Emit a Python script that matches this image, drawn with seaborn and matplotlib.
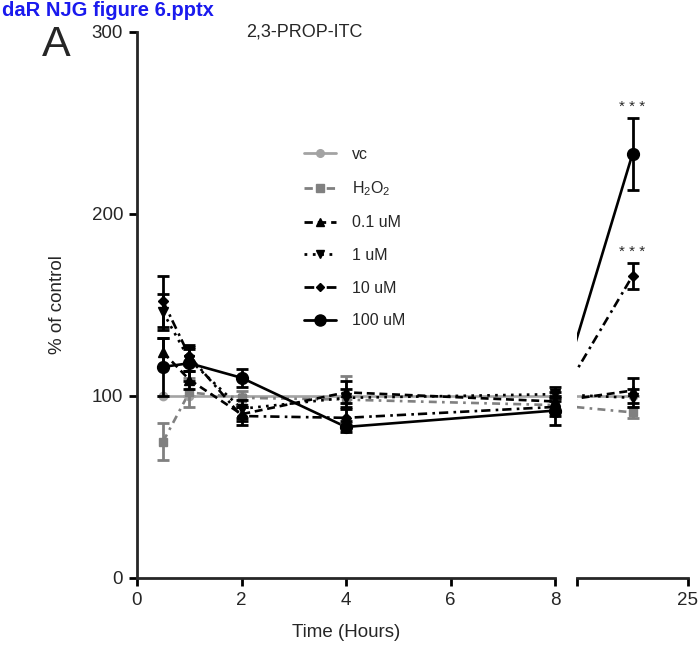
import matplotlib
matplotlib.use("Agg")
import numpy as np
import pandas as pd
import seaborn as sns
import matplotlib.pyplot as plt
from matplotlib.lines import Line2D

# ---------------- data ----------------
times = [0.5, 1, 2, 4, 8, 24]
labels = ["vc", "H$_2$O$_2$", "0.1 uM", "1 uM", "10 uM", "100 uM"]

vc_mean = [100, 100, 100, 100, 100, 100]
vc_err = [0, 0, 0, 0, 0, 0]
h2o2_mean = [75, 102, 99, 98, 95, 91]
h2o2_err = [10, 8, 4, 13, 4, 3]
c01_mean = [124, 109, 90, 102, 97, 103]
c01_err = [8, 5, 4, 6, 5, 7]
c1_mean = [146, 120, 93, 99, 101, 99]
c1_err = [10, 6, 5, 5, 4, 5]
c10_mean = [152, 122, 89, 88, 94, 166]
c10_err = [14, 5, 5, 5, 5, 7]
c100_mean = [116, 118, 110, 83, 92, 233]
c100_err = [16, 10, 5, 3, 8, 20]

means = [vc_mean, h2o2_mean, c01_mean, c1_mean, c10_mean, c100_mean]
errs = [vc_err, h2o2_err, c01_err, c1_err, c10_err, c100_err]

left_ticks = [0, 2, 4, 6, 8]
right_ticks = [23, 25]
right_ticklabels = ["", "25"]
y_ticks = [0, 100, 200, 300]
signif = ["* * *", "* * *"]
signif_series = [5, 4]

# ---------------- styles ----------------
colors = ["#a3a3a3", "#808080", "black", "black", "black", "black"]
styles = ["-", (0, (3, 2, 1, 2)), (0, (3, 1.8)), (0, (1, 2)), (0, (3.5, 2, 1, 1.5)), "-"]
markers = ["o", "s", "^", "v", "D", "o"]
msizes = [6, 6, 6.5, 6.5, 5, 8.5]

sns.set_theme(style="ticks")
plt.rcParams["font.family"] = ["Liberation Sans", "DejaVu Sans"]
plt.rcParams["mathtext.default"] = "regular"

W, H = 700, 650
fig = plt.figure(figsize=(7, 6.5), dpi=100)

L0, L1, R0, R1 = 137, 555, 577, 688
YB, YT = 578, 32
axL = fig.add_axes([L0 / W, (H - YB) / H, (L1 - L0) / W, (YB - YT) / H])
axR = fig.add_axes([R0 / W, (H - YB) / H, (R1 - R0) / W, (YB - YT) / H])
axL.set_xlim(0, 8)
axR.set_xlim(23, 25)
for ax in (axL, axR):
    ax.set_ylim(0, 300)

# mapping across the broken axis (continuous in display space)
pxL = (L1 - L0) / 8.0
pxR = (R1 - R0) / 2.0
def right_to_left(x):
    px = R0 + (x - 23) * pxR
    return (px - L0) / pxL
def left_to_right(x):
    px = L0 + x * pxL
    return 23 + (px - R0) / pxR

for i in range(len(labels)):
    m = means[i]
    e = errs[i]
    tl = [t if t <= 8 else right_to_left(t) for t in times]
    tr = [t if t > 8 else left_to_right(t) for t in times]
    dfl = pd.DataFrame({"x": tl, "y": m})
    dfr = pd.DataFrame({"x": tr, "y": m})
    z = 3 + i
    for ax, df in ((axL, dfl), (axR, dfr)):
        sns.lineplot(data=df, x="x", y="y", ax=ax, color=colors[i], linestyle=styles[i],
                     linewidth=1.9, errorbar=None, sort=False, zorder=z)
    lt = [t for t in times if t <= 8]
    axL.errorbar(lt, m[:len(lt)], yerr=e[:len(lt)], fmt=markers[i], color=colors[i],
                 ms=msizes[i], elinewidth=2, capsize=4, capthick=2, clip_on=False, zorder=z + 10)
    rt = [t for t in times if t > 8]
    axR.errorbar(rt, m[len(lt):], yerr=e[len(lt):], fmt=markers[i], color=colors[i],
                 ms=msizes[i], elinewidth=2, capsize=4, capthick=2, clip_on=False, zorder=z + 10)

for s, txt in zip(signif_series, signif):
    axR.text(times[-1], means[s][-1] + errs[s][-1] + 6, txt, ha="center", va="center",
             fontsize=11)

# ---------------- axes styling ----------------
sns.despine(ax=axL)
sns.despine(ax=axR, left=True)
for ax in (axL, axR):
    for sp in ax.spines.values():
        sp.set_linewidth(2)
    ax.tick_params(axis="both", width=2, length=6, direction="out", labelsize=13.5,
                   color="black", pad=4)
    ax.set_xlabel("")
    ax.set_ylabel("")
    ax.patch.set_alpha(0)

axL.set_xticks(left_ticks)
axL.set_yticks(y_ticks)
axR.set_xticks(right_ticks)
axR.set_xticklabels(right_ticklabels)
axR.set_yticks([])
axR.tick_params(left=False, labelleft=False)

axL.set_ylabel("% of control", fontsize=13.5)
axL.yaxis.set_label_coords(-0.17, 0.5)
axL.set_xlabel("Time (Hours)", fontsize=13.5)
axL.xaxis.set_label_coords(0.5, -0.085)

# legend
handles = [Line2D([], [], color=colors[i], linestyle=styles[i], marker=markers[i],
                  ms=msizes[i] - 0.5, lw=2) for i in range(len(labels))]
axL.legend(handles, labels, loc="upper left", bbox_to_anchor=(0.40, 0.79), frameon=False,
           fontsize=11.5, handlelength=2.0, handletextpad=1.0, labelspacing=1.1,
           borderpad=0, borderaxespad=0)

# texts
fig.text(304 / W, 1 - 32 / H, "2,3-PROP-ITC", ha="center", va="center", fontsize=13)
fig.text(42 / W, 1 - 56 / H, "A", ha="left", va="baseline", fontsize=31)
fig.text(2 / W, 1 - 1 / H, "daR NJG figure 6.pptx", ha="left", va="top",
         fontsize=14.5, fontweight="bold", color="#1a1aee")

fig.savefig("out.png", dpi=100)
